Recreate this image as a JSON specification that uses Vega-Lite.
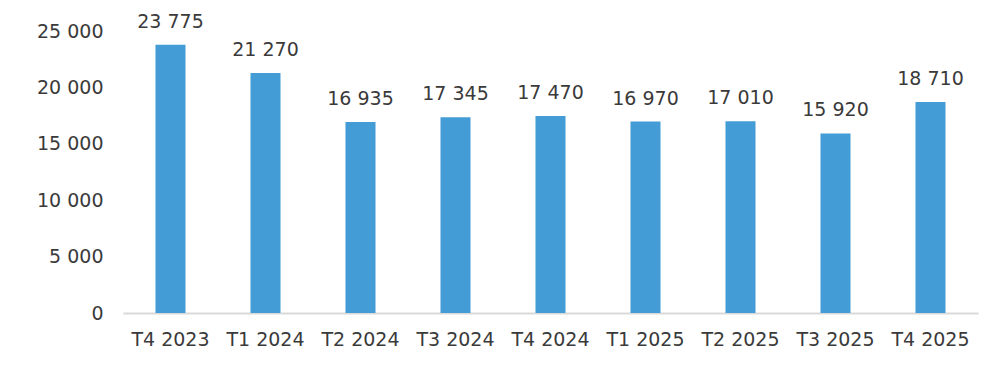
{
  "$schema": "https://vega.github.io/schema/vega-lite/v6.json",
  "autosize": {"type": "none"},
  "width": 855,
  "height": 282,
  "padding": {"left": 123, "top": 31, "right": 17, "bottom": 53},
  "background": "white",
  "config": {
    "view": {"stroke": null},
    "font": "DejaVu Sans",
    "locale": {"number": {"decimal": ",", "thousands": " ", "grouping": [3], "currency": ["", " €"]}}
  },
  "data": {
    "values": [
      {"q": "T4 2023", "v": 23775},
      {"q": "T1 2024", "v": 21270},
      {"q": "T2 2024", "v": 16935},
      {"q": "T3 2024", "v": 17345},
      {"q": "T4 2024", "v": 17470},
      {"q": "T1 2025", "v": 16970},
      {"q": "T2 2025", "v": 17010},
      {"q": "T3 2025", "v": 15920},
      {"q": "T4 2025", "v": 18710}
    ]
  },
  "encoding": {
    "x": {
      "field": "q", "type": "nominal", "sort": null,
      "scale": {"paddingInner": 0.684, "paddingOuter": 0.342},
      "axis": {"title": null, "labelAngle": 0, "labelFontSize": 19, "labelColor": "#3a3a3a", "labelPadding": 17, "ticks": false, "domainColor": "#d9d9d9", "domainWidth": 2}
    },
    "y": {
      "field": "v", "type": "quantitative",
      "scale": {"domain": [0, 25000], "nice": false},
      "axis": {"title": null, "values": [0, 5000, 10000, 15000, 20000, 25000], "format": ",d", "grid": false, "domain": false, "ticks": false, "labelFontSize": 19, "labelColor": "#3a3a3a", "labelPadding": 20}
    }
  },
  "layer": [
    {"mark": {"type": "bar", "color": "#439CD5"}},
    {"mark": {"type": "text", "baseline": "bottom", "dy": -13, "fontSize": 19, "color": "#3a3a3a"},
     "encoding": {"text": {"field": "v", "type": "quantitative", "format": ",d"}}}
  ]
}
